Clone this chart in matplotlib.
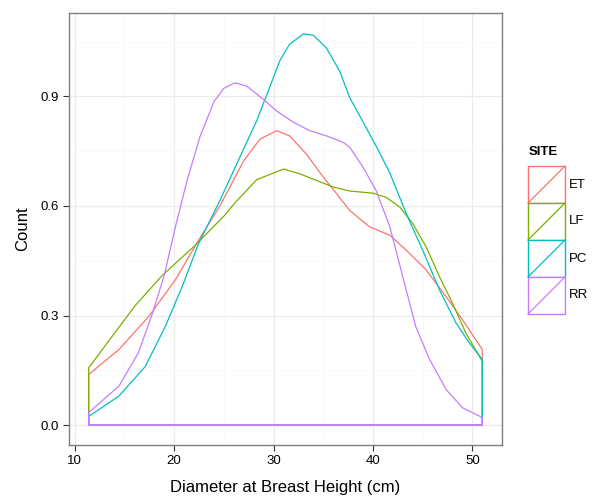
import numpy as np
import matplotlib
matplotlib.use("Agg")
import matplotlib.pyplot as plt
from matplotlib.patches import Rectangle
from matplotlib.lines import Line2D

plt.rcParams['font.family'] = ['Liberation Sans', 'DejaVu Sans']

# density curves (DBH in cm, scaled density)
sites = ['ET', 'LF', 'PC', 'RR']
colors = ['#F8766D', '#7CAE00', '#00BFC4', '#C77CFF']

et_x = [11.4, 14.44, 17.45, 20.1, 22.45, 24.6, 27.0, 28.64, 30.3, 31.6, 33.3, 35.0, 36.3, 37.65,
        39.65, 41.7, 43.35, 45.35, 47.35, 49.0, 51.0]
et_y = [0.139, 0.207, 0.298, 0.397, 0.506, 0.60, 0.724, 0.783, 0.806, 0.792, 0.742, 0.679, 0.635, 0.588,
        0.543, 0.52, 0.479, 0.425, 0.352, 0.289, 0.207]

lf_x = [11.4, 14.44, 16.1, 18.8, 22.1, 25.1, 26.0, 28.3, 31.0, 32.65, 34.3, 36.0, 37.65, 40.0,
        41.3, 42.7, 44.0, 45.35, 46.7, 48.0, 49.35, 51.0]
lf_y = [0.157, 0.268, 0.328, 0.41, 0.492, 0.575, 0.605, 0.672, 0.701, 0.688, 0.67, 0.652, 0.641, 0.635,
        0.624, 0.597, 0.552, 0.488, 0.406, 0.334, 0.252, 0.175]

pc_x = [11.4, 14.44, 17.1, 19.1, 20.8, 22.45, 24.6, 26.6, 28.3, 29.6, 30.6, 31.6, 33.0, 34.0, 35.3,
        36.65, 37.65, 39.0, 40.3, 41.7, 43.35, 45.0, 46.7, 48.35, 49.7, 51.0]
pc_y = [0.024, 0.08, 0.161, 0.27, 0.379, 0.497, 0.615, 0.733, 0.833, 0.924, 0.996, 1.042, 1.071, 1.067, 1.033,
        0.969, 0.897, 0.83, 0.765, 0.69, 0.579, 0.479, 0.37, 0.28, 0.225, 0.18]

rr_x = [11.4, 14.44, 16.4, 17.8, 19.0, 20.1, 21.3, 22.6, 24.0, 25.0, 26.1, 27.3, 28.96, 30.3, 32.0,
        33.65, 35.3, 37.0, 37.65, 39.0, 40.3, 41.7, 43.0, 44.3, 45.7, 47.35, 49.0, 51.0]
rr_y = [0.035, 0.107, 0.198, 0.305, 0.41, 0.54, 0.67, 0.79, 0.885, 0.922, 0.937, 0.928, 0.892, 0.86, 0.829,
        0.806, 0.792, 0.774, 0.761, 0.706, 0.643, 0.543, 0.406, 0.27, 0.18, 0.098, 0.048, 0.021]

curves = [(et_x, et_y), (lf_x, lf_y), (pc_x, pc_y), (rr_x, rr_y)]

fig = plt.figure(figsize=(5.95, 5.01), dpi=100)
W, H = 595., 501.
ax = fig.add_axes([69/W, (H-445)/H, (502-69)/W, (445-13)/H])

for (xs, ys), c in zip(curves, colors):
    px = [xs[0]] + xs + [xs[-1], xs[0]]
    py = [0] + ys + [0, 0]
    ax.plot(px, py, color=c, lw=0.9, solid_joinstyle='round')
# last site's baseline sits on top, as in ggplot
ax.plot([rr_x[0], rr_x[-1]], [0, 0], color=colors[-1], lw=1.1)

ax.set_xlim(9.42, 52.98)
ax.set_ylim(-0.054, 1.128)
ax.set_xticks([10, 20, 30, 40, 50])
ax.set_yticks([0.0, 0.3, 0.6, 0.9])
ax.set_yticklabels(['0.0', '0.3', '0.6', '0.9'])
ax.set_xticks([15, 25, 35, 45], minor=True)
ax.set_yticks([0.15, 0.45, 0.75, 1.05], minor=True)
ax.grid(True, which='major', color='#EBEBEB', lw=0.9)
ax.grid(True, which='minor', color='#FAFAFA', lw=0.6)
ax.set_axisbelow(True)
ax.tick_params(which='minor', length=0)
ax.tick_params(which='major', length=4, color='#333333', width=0.8,
               labelsize=9.5, labelcolor='black')
for s in ax.spines.values():
    s.set_color('#7F7F7F')
    s.set_linewidth(1.0)

ax.set_xlabel('Diameter at Breast Height (cm)', fontsize=12, labelpad=9)
ax.set_ylabel('Count', fontsize=12, labelpad=7)

# legend drawn by hand, ggplot style keys
fig.text(529/W, 1-152/H, 'SITE', fontsize=9.5, fontweight='bold', va='center', ha='left')
kw, kh = 37, 37
for i, (s, c) in enumerate(zip(sites, colors)):
    top = 166 + i*kh
    x0, y0 = 528/W, 1-(top+kh)/H
    fig.patches.append(Rectangle((x0, y0), kw/W, kh/H, transform=fig.transFigure,
                                 facecolor='white', edgecolor=c, lw=1.0))
    fig.lines.append(Line2D([x0, x0+kw/W], [y0, y0+kh/H], transform=fig.transFigure,
                            color=c, lw=0.9))
    fig.text(569/W, 1-(top+kh/2)/H, s, fontsize=9.5, va='center', ha='left')

fig.savefig('out.png', dpi=100)
